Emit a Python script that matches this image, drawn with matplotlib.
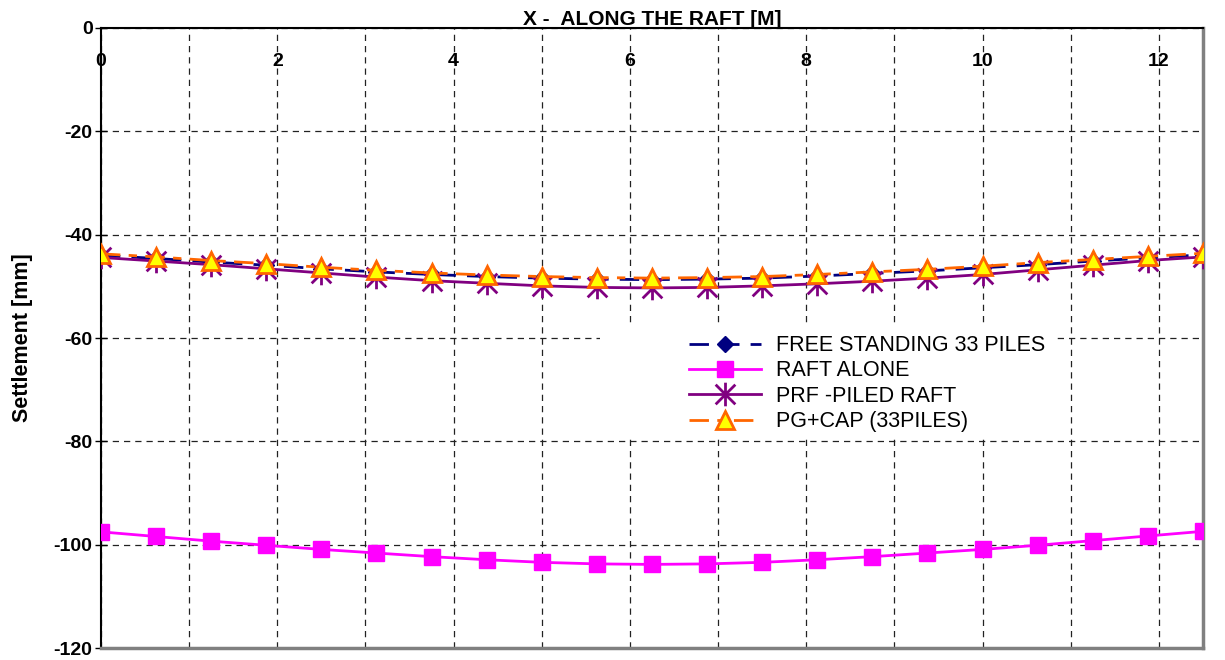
import numpy as np
from matplotlib import pyplot as plt
from matplotlib.ticker import MultipleLocator
from matplotlib.patches import Rectangle
from matplotlib.path import Path

plt.rcParams['font.family'] = ['Liberation Sans', 'DejaVu Sans']
plt.rcParams['axes.unicode_minus'] = False

# distance along the raft [m]
x_pos = [0, 0.625, 1.25, 1.875, 2.5, 3.125, 3.75, 4.375, 5, 5.625, 6.25,
         6.875, 7.5, 8.125, 8.75, 9.375, 10, 10.625, 11.25, 11.875, 12.5]

free_33 = [-44.0, -44.6, -45.3, -45.9, -46.6, -47.2, -47.7, -48.1, -48.4, -48.6, -48.7,
           -48.6, -48.4, -48.0, -47.5, -47.0, -46.4, -45.8, -45.1, -44.5, -43.9]
raft_alone = [-97.5, -98.4, -99.3, -100.1, -100.9, -101.6, -102.3, -102.9, -103.4, -103.7, -103.8,
              -103.7, -103.4, -102.9, -102.3, -101.6, -100.9, -100.1, -99.2, -98.3, -97.4]
prf = [-44.4, -45.1, -45.8, -46.6, -47.4, -48.2, -48.9, -49.4, -49.9, -50.2, -50.3,
       -50.2, -49.9, -49.5, -49.0, -48.4, -47.7, -46.8, -45.9, -45.0, -44.3]
pg_cap = [-43.7, -44.3, -45.0, -45.6, -46.3, -46.9, -47.4, -47.8, -48.1, -48.3, -48.4,
          -48.3, -48.1, -47.7, -47.2, -46.7, -46.1, -45.4, -44.8, -44.2, -43.6]

# excel style star: an x with a vertical bar
star = Path([(-1, -1), (1, 1), (-1, 1), (1, -1), (0, -1.2), (0, 1.2)],
            [Path.MOVETO, Path.LINETO, Path.MOVETO, Path.LINETO, Path.MOVETO, Path.LINETO])

fig = plt.figure(figsize=(12.25, 6.6), dpi=100)
ax = fig.add_axes([0.0824, 0.018, 0.8996, 0.9396])

ax.plot(x_pos, free_33, color='#000080', lw=2, dashes=(7, 4), marker='D', ms=8,
        label='FREE STANDING 33 PILES', zorder=3)
ax.plot(x_pos, raft_alone, color='#FF00FF', lw=2, marker='s', ms=11,
        label='RAFT ALONE', zorder=3)
ax.plot(x_pos, prf, color='#800080', lw=2, marker=star, ms=17, mew=2,
        label='PRF -PILED RAFT', zorder=3)
ax.plot(x_pos, pg_cap, color='#FF6600', lw=2, dashes=(7, 3, 3, 3), marker='^', ms=13,
        mfc='#FFFF00', mec='#FF6600', mew=2, label='PG+CAP (33PILES)', zorder=4)

ax.set_xlim(0, 12.5)
ax.set_ylim(-120, 0)
ax.xaxis.set_major_locator(MultipleLocator(2))
ax.xaxis.set_minor_locator(MultipleLocator(1))
ax.yaxis.set_major_locator(MultipleLocator(20))
ax.xaxis.tick_top()
ax.tick_params(axis='x', which='both', length=0, pad=-30, labelsize=14)
ax.tick_params(axis='y', direction='inout', length=8, width=1, labelsize=14, pad=2)
for lab in ax.get_xticklabels() + ax.get_yticklabels():
    lab.set_fontweight('bold')

ax.grid(True, which='both', color='#222222', lw=0.9, dashes=(5, 4))
ax.set_axisbelow(True)

for s in ['left', 'top']:
    ax.spines[s].set_color('black')
    ax.spines[s].set_linewidth(1.5)
for s in ['right', 'bottom']:
    ax.spines[s].set_color('#808080')
    ax.spines[s].set_linewidth(2.5)

ax.set_title('X -  ALONG THE RAFT [M]', fontsize=15, fontweight='bold', pad=2)
ax.set_ylabel('Settlement [mm]', fontsize=15.5, fontweight='bold', labelpad=15)

# white area behind the legend, hides the grid
ax.add_patch(Rectangle((0.453, 0.34), 0.413, 0.179, transform=ax.transAxes,
                       facecolor='white', edgecolor='none', zorder=1))
ax.legend(loc='upper left', bbox_to_anchor=(0.524, 0.522), frameon=False, fontsize=15.5,
          borderpad=0, handlelength=3.35, handletextpad=0.7, labelspacing=0.2)

plt.savefig('out.png', dpi=100)
